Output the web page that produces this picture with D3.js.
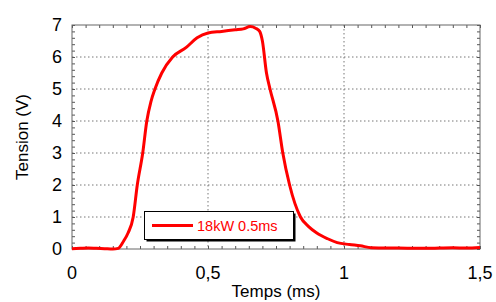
<!DOCTYPE html>
<html>
<head>
<meta charset="utf-8">
<script src="https://cdn.jsdelivr.net/npm/d3@7"></script>
<style>
  html, body { margin: 0; padding: 0; background: #fff; overflow: hidden; }
  svg { display: block; }
  svg text { font-family: "Liberation Sans", Arial, sans-serif; }
</style>
</head>
<body>
<svg id="chart"></svg>
<script>
const width = 496;
const height = 302;
const margin = { top: 25, right: 16, bottom: 53, left: 72 };
const innerWidth = width - margin.left - margin.right;
const innerHeight = height - margin.top - margin.bottom;

// Temps (ms) / Tension (V)
const timeMs = [0, 0.03, 0.06, 0.09, 0.12, 0.15, 0.17, 0.19, 0.206, 0.225, 0.24, 0.26, 0.275, 0.29, 0.305,
  0.33, 0.37, 0.42, 0.46, 0.5, 0.55, 0.6, 0.63, 0.655, 0.675, 0.69, 0.70, 0.715, 0.728, 0.757, 0.775,
  0.80, 0.84, 0.87, 0.90, 0.94, 0.975, 1.02, 1.06, 1.1, 1.2, 1.3, 1.4, 1.45, 1.5];
const tensionV = [0.01, 0.02, 0.03, 0.02, 0.01, 0.0, 0.02, 0.25, 0.5, 1.0, 2.0, 3.0, 4.0, 4.6, 5.0,
  5.5, 6.0, 6.3, 6.6, 6.75, 6.8, 6.85, 6.88, 6.95, 6.9, 6.8, 6.5, 5.5, 5.0, 4.0, 3.0,
  2.0, 1.0, 0.7, 0.5, 0.32, 0.2, 0.14, 0.1, 0.04, 0.03, 0.02, 0.04, 0.03, 0.05];
const xTicks = [0, 0.5, 1, 1.5];
const xTickLabels = ["0", "0,5", "1", "1,5"];
const yTicks = [0, 1, 2, 3, 4, 5, 6, 7];
const seriesName = "18kW 0.5ms";

const svg = d3.select("#chart").attr("width", width).attr("height", height);
const root = svg.append("g").attr("transform", `translate(${margin.left},${margin.top})`);

const x = d3.scaleLinear().domain([0, 1.5]).range([0, innerWidth]);
const y = d3.scaleLinear().domain([0, 7]).range([innerHeight, 0]);

// dotted grid
root.append("g")
  .selectAll("line")
  .data([0.5, 1])
  .join("line")
  .attr("x1", (d) => x(d)).attr("x2", (d) => x(d))
  .attr("y1", 0).attr("y2", innerHeight)
  .attr("stroke", "#777").attr("stroke-dasharray", "1.5,2.5");

root.append("g")
  .selectAll("line")
  .data([1, 2, 3, 4, 5, 6])
  .join("line")
  .attr("x1", 0).attr("x2", innerWidth)
  .attr("y1", (d) => y(d)).attr("y2", (d) => y(d))
  .attr("stroke", "#777").attr("stroke-dasharray", "1.5,2.5");

// inward minor ticks on all four sides
const minorX = d3.range(0, 1.5001, 0.05);
const minorY = d3.range(0, 7.001, 0.2);
const tickLen = 3;

function styleTicks(g) {
  g.select(".domain").remove();
  g.selectAll("text").remove();
  g.selectAll("line").attr("stroke", "#555");
}

root.append("g").call(d3.axisTop(x).tickValues(minorX).tickSize(-tickLen)).call(styleTicks);
root.append("g").attr("transform", `translate(0,${innerHeight})`)
  .call(d3.axisBottom(x).tickValues(minorX).tickSize(-tickLen)).call(styleTicks);
root.append("g").call(d3.axisLeft(y).tickValues(minorY).tickSize(-tickLen)).call(styleTicks);
root.append("g").attr("transform", `translate(${innerWidth},0)`)
  .call(d3.axisRight(y).tickValues(minorY).tickSize(-tickLen)).call(styleTicks);

// frame
root.append("rect")
  .attr("width", innerWidth).attr("height", innerHeight)
  .attr("fill", "none").attr("stroke", "#666");

// tick labels
root.append("g")
  .selectAll("text")
  .data(xTicks)
  .join("text")
  .attr("x", (d) => x(d))
  .attr("y", innerHeight + 30)
  .attr("text-anchor", "middle")
  .attr("font-size", 18)
  .text((d, i) => xTickLabels[i]);

root.append("g")
  .selectAll("text")
  .data(yTicks)
  .join("text")
  .attr("x", -10)
  .attr("y", (d) => y(d) + 6)
  .attr("text-anchor", "end")
  .attr("font-size", 18)
  .text((d) => d);

// axis titles
root.append("text")
  .attr("x", innerWidth / 2)
  .attr("y", innerHeight + 48)
  .attr("text-anchor", "middle")
  .attr("font-size", 17)
  .text("Temps (ms)");

root.append("text")
  .attr("transform", "rotate(-90)")
  .attr("x", -innerHeight / 2)
  .attr("y", -44)
  .attr("text-anchor", "middle")
  .attr("font-size", 17)
  .text("Tension (V)");

// series
const points = timeMs.map((t, i) => [t, tensionV[i]]);
root.append("path")
  .datum(points)
  .attr("fill", "none")
  .attr("stroke", "#ff0000")
  .attr("stroke-width", 3)
  .attr("stroke-linejoin", "round")
  .attr("d", d3.line().x((d) => x(d[0])).y((d) => y(d[1])).curve(d3.curveMonotoneX));

// legend
const legend = svg.append("g").attr("transform", "translate(144,211)");
legend.append("rect").attr("x", 2.5).attr("y", 2.5).attr("width", 149).attr("height", 28).attr("fill", "#000");
legend.append("rect").attr("x", 0.5).attr("y", 0.5).attr("width", 149).attr("height", 28)
  .attr("fill", "#fff").attr("stroke", "#000");
legend.append("line").attr("x1", 8).attr("x2", 49).attr("y1", 14.5).attr("y2", 14.5)
  .attr("stroke", "#ff0000").attr("stroke-width", 3);
legend.append("text").attr("x", 53).attr("y", 20).attr("font-size", 14.5).attr("fill", "#ff0000")
  .text(seriesName);
</script>
</body>
</html>
